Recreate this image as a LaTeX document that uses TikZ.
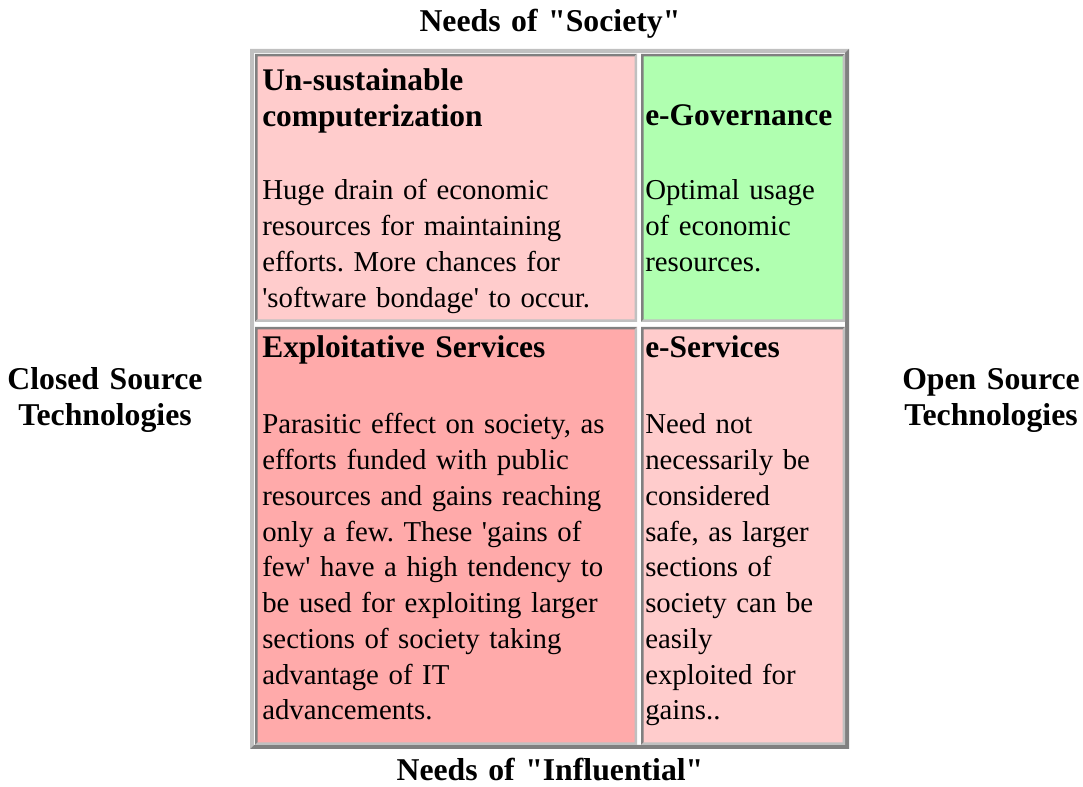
\documentclass[tikz,border=0pt]{standalone}
\usepackage{fontspec}
\setmainfont{Liberation Serif}
\usepackage{tikz}
\frenchspacing
\definecolor{unsustpink}{RGB}{255,204,204}
\definecolor{egovgreen} {RGB}{176,255,176}
\definecolor{exploitred}{RGB}{255,170,170}
\definecolor{eservpink} {RGB}{255,204,204}
\definecolor{bevlight}  {RGB}{192,192,192}
\definecolor{bevdark}   {RGB}{128,128,128}
\tikzset{
  tablebox/.style={inner sep=0pt, outer sep=0pt, fill=white,
                   minimum width=449.25pt, minimum height=525pt},
  cellbox/.style ={inner sep=0pt, outer sep=0pt},
  headtext/.style={anchor=base west, inner sep=0pt, align=left,
                   font=\fontsize{23.6}{26.8}\selectfont\bfseries},
  bodytext/.style={anchor=base west, inner sep=0pt, align=left,
                   font=\fontsize{21.6}{26.8}\selectfont},
  axislabel/.style={anchor=base, inner sep=0pt, align=center, text width=260pt,
                    font=\fontsize{23.8}{26.3}\selectfont\bfseries},
}

\begin{document}
\begin{tikzpicture}[x=0.75pt, y=-0.75pt]
  \useasboundingbox (0,0) rectangle (1083,787);

  % outer frame of the table
  \node[tablebox] (tab) at (549.5,399) {};
  \fill[bevlight] (tab.south west) -- (tab.north west) -- (tab.north east)
        -- ([shift={(-4,4)}]tab.north east) -- ([shift={(4,4)}]tab.north west)
        -- ([shift={(4,-4)}]tab.south west) -- cycle;
  \fill[bevdark] (tab.north east) -- (tab.south east) -- (tab.south west)
        -- ([shift={(4,-4)}]tab.south west) -- ([shift={(-4,-4)}]tab.south east)
        -- ([shift={(-4,4)}]tab.north east) -- cycle;

  % the four quadrants
  \node[cellbox, fill=unsustpink, minimum width=286.5pt, minimum height=201pt]
        (unsust) at (446,188) {};
  \node[cellbox, fill=egovgreen, minimum width=153pt, minimum height=201pt]
        (egov) at (743,188) {};
  \node[cellbox, fill=exploitred, minimum width=286.5pt, minimum height=313.5pt]
        (exploit) at (446,536) {};
  \node[cellbox, fill=eservpink, minimum width=153pt, minimum height=313.5pt]
        (eserv) at (743,536) {};
  \foreach \c in {unsust,egov,exploit,eserv} {
    \fill[bevdark] (\c.south west) -- (\c.north west) -- (\c.north east)
          -- ([shift={(-2.5,2.5)}]\c.north east) -- ([shift={(2.5,2.5)}]\c.north west)
          -- ([shift={(2.5,-2.5)}]\c.south west) -- cycle;
    \fill[bevlight] (\c.north east) -- (\c.south east) -- (\c.south west)
          -- ([shift={(2.5,-2.5)}]\c.south west) -- ([shift={(-2.5,-2.5)}]\c.south east)
          -- ([shift={(-2.5,2.5)}]\c.north east) -- cycle;
  }

  % quadrant texts
  \node[headtext, text width=280pt] (unsusthead) at (262,91)
        {Un-sustainable\\computerization};
  \node[bodytext, text width=280pt] (unsustbody) at (262,200)
        {Huge drain of economic\\resources for maintaining\\efforts. More chances for\\
         \textquotesingle software bondage\textquotesingle{} to occur.};
  \node[headtext, text width=150pt] (egovhead) at (645,126) {e-Governance};
  \node[bodytext, text width=150pt] (egovbody) at (645,200)
        {Optimal usage\\of economic\\resources.};

  \node[headtext, text width=280pt] (exploithead) at (262,358) {Exploitative Services};
  \node[bodytext, text width=280pt] (exploitbody) at (262,434)
        {Parasitic effect on society, as\\efforts funded with public\\
         resources and gains reaching\\only a few. These \textquotesingle gains of\\
         few\textquotesingle{} have a high tendency to\\be used for exploiting larger\\
         sections of society taking\\advantage of IT\\advancements.};
  \node[headtext, text width=150pt] (eservhead) at (645,358) {e-Services};
  \node[bodytext, text width=150pt] (eservbody) at (645,434)
        {Need not\\necessarily be\\considered\\safe, as larger\\sections of\\
         society can be\\easily\\exploited for\\gains..};

  % axis labels
  \node[axislabel] (society) at (550,32) {Needs of \textquotedbl Society\textquotedbl};
  \node[axislabel] (influential) at (550,781)
        {Needs of \textquotedbl Influential\textquotedbl};
  \node[axislabel] (closed) at (105,390) {Closed Source\\Technologies};
  \node[axislabel] (open) at (991,390) {Open Source\\Technologies};
\end{tikzpicture}
\end{document}
